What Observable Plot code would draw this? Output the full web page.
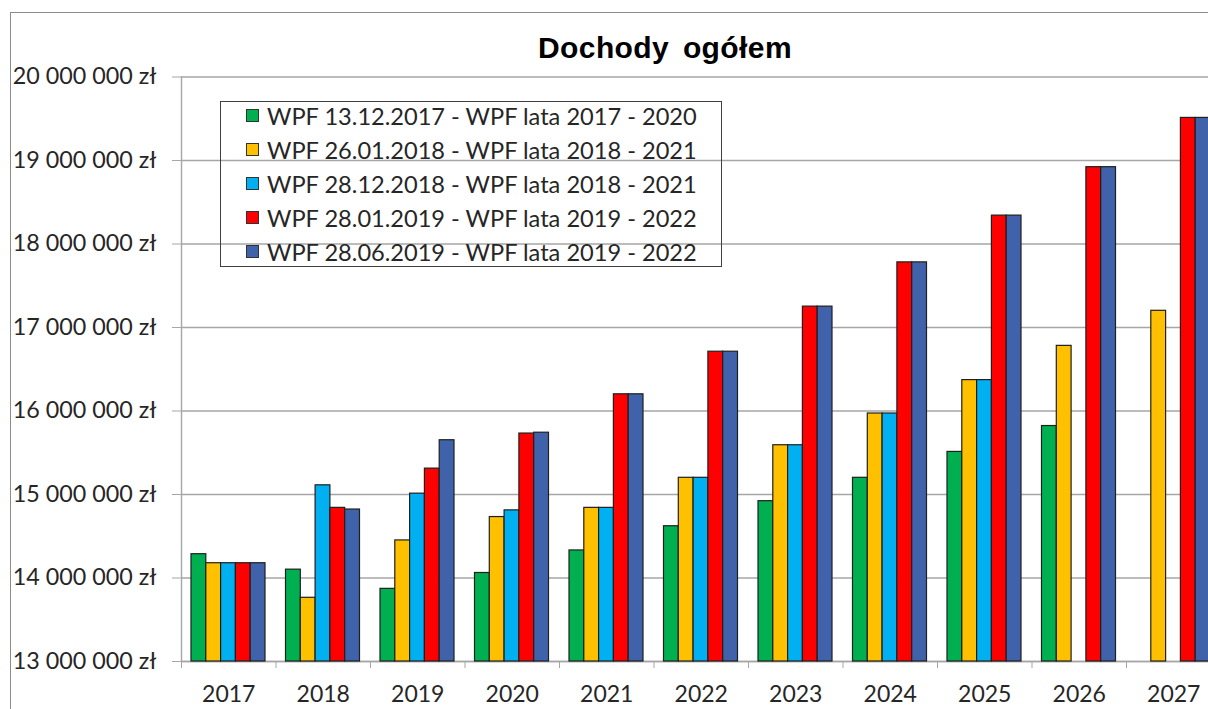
<!DOCTYPE html>
<html><head><meta charset="utf-8">
<script src="https://cdn.jsdelivr.net/npm/d3@7"></script>
<script src="https://cdn.jsdelivr.net/npm/@observablehq/plot@0.6"></script>
<style>
body{margin:0;background:#fff;}
#wrap{position:relative;width:1208px;height:709px;overflow:hidden;font-family:Lato,"Open Sans",sans-serif;}
#frame{position:absolute;left:10px;top:12px;width:1300px;height:800px;border-left:1px solid #8c8c8c;border-top:1px solid #8c8c8c;}
#title{position:relative;height:60px;box-sizing:border-box;padding-top:34px;padding-left:122px;text-align:center;font-family:"Liberation Sans",Arial,sans-serif;font-weight:bold;font-size:30px;line-height:28px;letter-spacing:0.4px;word-spacing:5px;color:#000;}
#chart{position:relative;}
#legend{position:absolute;left:220px;top:101px;width:502px;height:166px;box-sizing:border-box;border:1.5px solid #404040;}
.row{position:absolute;left:0;height:34px;display:flex;align-items:center;white-space:nowrap;}
.sw{position:absolute;left:25px;width:13px;height:13px;box-sizing:border-box;border:1px solid #333;}
.lt{position:absolute;left:46px;font-size:23.6px;color:#262626;}
</style></head><body>
<div id="wrap">
  <div id="frame"></div>
  <div id="title">Dochody ogółem</div>
  <div id="chart"></div>
  <div id="legend"></div>
</div>
<script>
const years = ["2017","2018","2019","2020","2021","2022","2023","2024","2025","2026","2027"];
const seriesNames = [
  "WPF 13.12.2017 - WPF lata 2017 - 2020",
  "WPF 26.01.2018 - WPF lata 2018 - 2021",
  "WPF 28.12.2018 - WPF lata 2018 - 2021",
  "WPF 28.01.2019 - WPF lata 2019 - 2022",
  "WPF 28.06.2019 - WPF lata 2019 - 2022"
];
const seriesColors = ["#00B050","#FFC000","#00B0F0","#FF0000","#3F62AA"];
const wpf20171213 = [14285000,14100000,13870000,14060000,14330000,14620000,14920000,15200000,15510000,15820000,null];
const wpf20180126 = [14177000,13763000,14450000,14730000,14840000,15200000,15590000,15970000,16370000,16780000,17200000];
const wpf20181228 = [14177000,15110000,15010000,14810000,14840000,15200000,15590000,15970000,16370000,null,null];
const wpf20190128 = [14177000,14840000,15310000,15730000,16200000,16710000,17250000,17780000,18340000,18920000,19510000];
const wpf20190628 = [14177000,14820000,15650000,15740000,16200000,16710000,17250000,17780000,18340000,18920000,19510000];
const yTicks = [13000000,14000000,15000000,16000000,17000000,18000000,19000000,20000000];

const seriesValues = [wpf20171213, wpf20180126, wpf20181228, wpf20190128, wpf20190628];
const fmt = v => d3.format(",")(v).replace(/,/g, " ") + " zł";

const bandW = 94.5, groupPad = 10, barW = 14.8;
const barMarks = seriesValues.map((vals, i) => {
  const data = years.map((y, j) => ({year: y, value: vals[j]})).filter(d => d.value != null);
  return Plot.barY(data, {
    x: "year", y1: () => 13000000, y2: "value",
    fill: seriesColors[i], stroke: "#1f1f1f", strokeWidth: 1.2,
    insetLeft: groupPad + i * barW,
    insetRight: bandW - groupPad - (i + 1) * barW
  });
});

const chart = Plot.plot({
  width: 1208, height: 649,
  marginLeft: 181, marginRight: 0, marginTop: 16.5, marginBottom: 48,
  style: {fontFamily: "Lato, 'Open Sans', sans-serif", fontSize: "23px", background: "transparent"},
  x: {domain: years, range: [181, 1220.5], paddingInner: 0, paddingOuter: 0, round: false},
  y: {domain: [13000000, 20000000], range: [601, 16.5]},
  marks: [
    Plot.gridY(yTicks, {stroke: "#a6a6a6", strokeOpacity: 1, strokeWidth: 1.4}),
    Plot.axisY(yTicks, {tickSize: 9, tickPadding: 16, tickFormat: fmt, stroke: "#a6a6a6", fill: "#262626", fontSize: 23.3, label: null}),
    Plot.frame({anchor: "left", stroke: "#a6a6a6", strokeWidth: 1.4}),
    Plot.ruleY([13000000], {stroke: "#a6a6a6", strokeWidth: 1.4}),
    ...barMarks,
    Plot.axisX({tickSize: 7, tickFormat: () => "", dx: -bandW / 2, stroke: "#a6a6a6", label: null}),
    Plot.axisX({tickSize: 0, tickPadding: 24, fill: "#262626", fontSize: 23, label: null})
  ]
});
document.getElementById("chart").appendChild(chart);

const legend = document.getElementById("legend");
seriesNames.forEach((name, i) => {
  const row = document.createElement("div");
  row.className = "row";
  row.style.top = (-1.5 - 2 + 34 * i) + "px";
  row.innerHTML = `<span class="sw" style="background:${seriesColors[i]}"></span><span class="lt">${name}</span>`;
  legend.appendChild(row);
});
</script>
</body></html>
